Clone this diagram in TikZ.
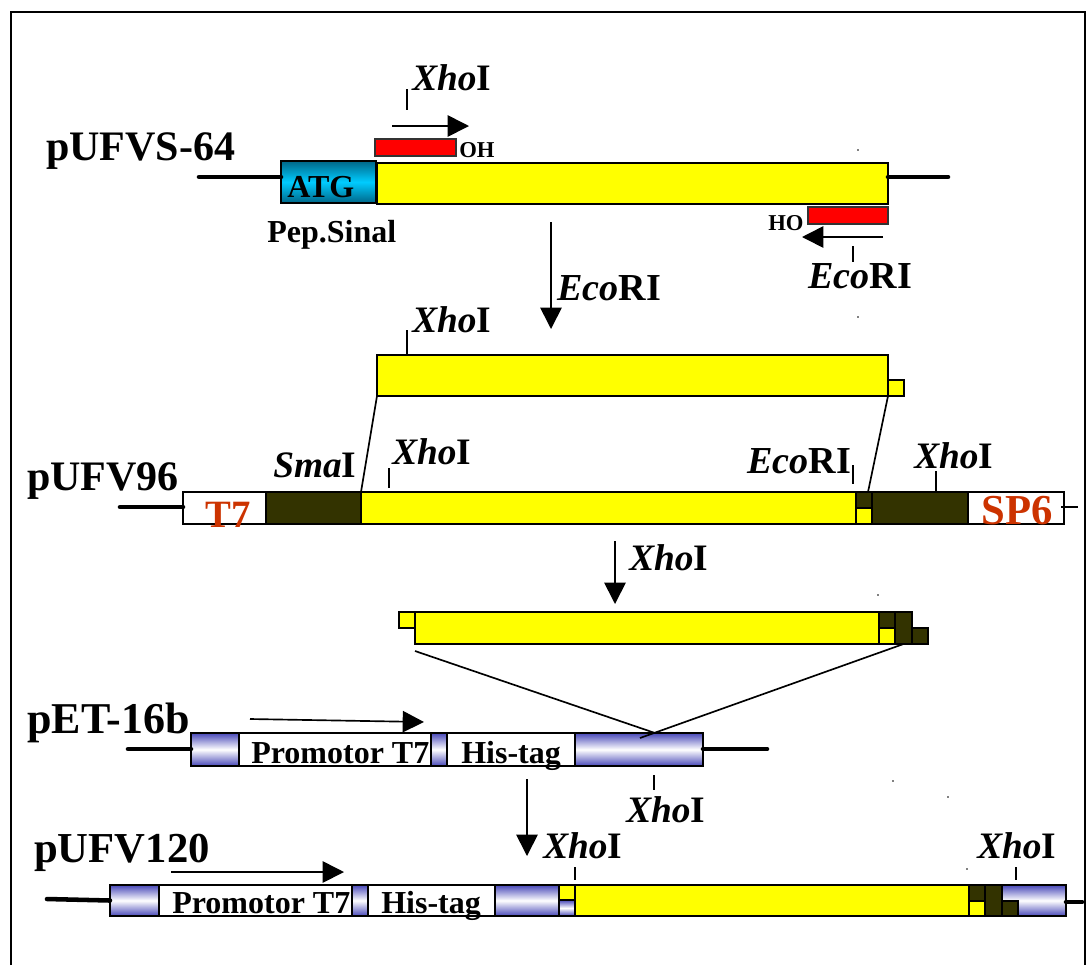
\documentclass[tikz,border=0pt]{standalone}
\usepackage{fontspec}
\setmainfont{Liberation Serif}
\usetikzlibrary{arrows.meta}
\definecolor{bandblue}{RGB}{72,72,184}
\definecolor{darkband}{RGB}{51,51,0}
\definecolor{promoter}{RGB}{204,51,0}
\definecolor{atgdark}{RGB}{0,102,136}
\definecolor{atgcyan}{RGB}{0,204,255}
\definecolor{geneyellow}{rgb}{1,1,0}
\newcommand{\xhoI}{\textit{Xho}I}
\newcommand{\ecoRI}{\textit{Eco}RI}
\tikzset{
  barsize/.style 2 args={minimum width=#1*0.75pt,minimum height=#2*0.75pt},
  bar/.style={draw=black,line width=1.1pt,anchor=north west,inner sep=0pt,outer sep=0pt},
  yellowbar/.style={bar,fill=geneyellow},
  darkbar/.style={bar,fill=darkband},
  whitebar/.style={bar,fill=white},
  redbar/.style={bar,fill=red,draw=black!80,line width=1.2pt},
  blueband/.style={bar,top color=bandblue,bottom color=bandblue,middle color=white},
  atgband/.style={bar,top color=atgdark,bottom color=atgdark,middle color=atgcyan},
  plasmid/.style={anchor=base west,inner sep=0pt,font=\bfseries\fontsize{31.5}{34}\selectfont},
  site/.style={anchor=base west,inner sep=0pt,font=\bfseries\fontsize{28}{30}\selectfont},
  ecosite/.style={anchor=base west,inner sep=0pt,font=\bfseries\fontsize{28.6}{30}\selectfont},
  inbar/.style={anchor=base west,inner sep=0pt,font=\bfseries\fontsize{24}{26}\selectfont},
  endgroup/.style={anchor=base west,inner sep=0pt,font=\bfseries\fontsize{17}{19}\selectfont},
  tailline/.style={line width=3.4pt,line cap=round},
  tickline/.style={line width=0.8pt},
  insertline/.style={line width=1.25pt},
  bigarrow/.style={line width=1.25pt,-{Triangle[length=16pt,width=16pt]}},
}
\begin{document}
\begin{tikzpicture}[x=0.75pt,y=-0.75pt]
  \useasboundingbox (0,0) rectangle (1088,965);
  \draw[line width=1.2pt] (11,965) -- (11,12) -- (1085,12) -- (1085,965);

  \coordinate (tailAl) at (199,177);
  \coordinate (tailAr) at (948,177);
  \coordinate (tailBl) at (120,507);
  \coordinate (tailBr) at (1078,507);
  \coordinate (tailCl) at (128,749);
  \coordinate (tailCr) at (767,749);
  \coordinate (tailDl) at (47,899);
  \coordinate (tailDr) at (1082,902);

  \node[atgband,barsize={95}{42}] (atgbox) at (281,161) {};
  \node[yellowbar,barsize={511}{41}] (geneA) at (377,163) {};
  \node[redbar,barsize={81}{17}] (primerF) at (375,139) {};
  \node[redbar,barsize={80}{17}] (primerR) at (808,207) {};
  \draw[tailline] (tailAl) -- (tailAl -| atgbox.west);
  \draw[tailline] (tailAl -| geneA.east) -- (tailAr);

  \node[plasmid] (nameA) at (46,160) {pUFVS-64};
  \node[inbar] (atglabel) at (287,197) {ATG};
  \node[inbar] (peplabel) at (267,242) {Pep.Sinal};
  \node[site] (xhoA) at (412,90) {\xhoI};
  \node[endgroup] (ohlabel) at (459,157) {OH};
  \node[endgroup] (holabel) at (768,230) {HO};
  \node[ecosite] (ecoA) at (808,288) {\ecoRI};
  \node[ecosite] (ecoB) at (557,300) {\ecoRI};

  \coordinate (tickAa) at (407,89);
  \coordinate (tickAb) at (407,110);
  \draw[tickline] (tickAa) -- (tickAb);
  \coordinate (tickBa) at (853,246);
  \coordinate (tickBb) at (853,262);
  \draw[tickline] (tickBa) -- (tickBb);
  \coordinate (arrowAa) at (392,126);
  \coordinate (arrowAb) at (469,126);
  \draw[bigarrow] (arrowAa) -- (arrowAb);
  \coordinate (arrowBa) at (883,237);
  \coordinate (arrowBb) at (802,237);
  \draw[bigarrow] (arrowBa) -- (arrowBb);
  \coordinate (arrowCa) at (551,222);
  \coordinate (arrowCb) at (551,329);
  \draw[bigarrow] (arrowCa) -- (arrowCb);

  \node[yellowbar,barsize={511}{41}] (geneB) at (377,355) {};
  \node[yellowbar,barsize={16}{16}] (stubB) at (888,380) {};
  \node[site] (xhoB) at (412,332) {\xhoI};
  \coordinate (tickCa) at (407,330);
  \draw[tickline] (tickCa) -- (tickCa |- geneB.north);

  \node[whitebar,barsize={83}{32}] (bandT) at (183,492) {};
  \node[darkbar,barsize={95}{32}] (smaband) at (266,492) {};
  \node[yellowbar,barsize={495}{32}] (geneC) at (361,492) {};
  \node[darkbar,barsize={16}{16}] (colCt) at (856,492) {};
  \node[yellowbar,barsize={16}{16}] (colCb) at (856,508) {};
  \node[darkbar,barsize={96}{32}] (xhoband) at (872,492) {};
  \node[whitebar,barsize={96}{32}] (bandS) at (968,492) {};
  \draw[tailline] (tailBl) -- (tailBl -| bandT.west);
  \draw[tickline] (tailBr -| bandS.east) ++(-3,0) -- (tailBr);
  \draw[insertline] (geneB.south west) -- (smaband.north east);
  \draw[insertline] (geneB.south east) -- ([xshift=3pt]colCt.north);

  \node[plasmid] (nameB) at (27,490) {pUFV96};
  \node[site] (smalabel) at (273,477) {\textit{Sma}I};
  \node[site] (xhoC) at (392,464) {\xhoI};
  \node[ecosite] (ecoC) at (747,473) {\ecoRI};
  \node[site] (xhoD) at (914,468) {\xhoI};
  \node[anchor=base west,inner sep=0pt,text=promoter,font=\bfseries\fontsize{29}{31}\selectfont] (tlabel) at (205,527) {T7};
  \node[anchor=base west,inner sep=0pt,text=promoter,font=\bfseries\fontsize{32}{34}\selectfont] (splabel) at (981,524) {SP6};

  \coordinate (tickDa) at (389,468);
  \coordinate (tickDb) at (389,488);
  \draw[tickline] (tickDa) -- (tickDb);
  \coordinate (tickEa) at (853,465);
  \coordinate (tickEb) at (853,484);
  \draw[tickline] (tickEa) -- (tickEb);
  \coordinate (tickFa) at (936,471);
  \draw[tickline] (tickFa) -- (tickFa |- xhoband.north);

  \coordinate (arrowDa) at (615,541);
  \coordinate (arrowDb) at (615,604);
  \draw[bigarrow] (arrowDa) -- (arrowDb);
  \node[site] (xhoE) at (629,570) {\xhoI};

  \node[yellowbar,barsize={16}{16}] (stubE) at (399,612) {};
  \node[yellowbar,barsize={464}{32}] (geneE) at (415,612) {};
  \node[darkbar,barsize={16}{16}] (colEt) at (879,612) {};
  \node[yellowbar,barsize={16}{16}] (colEb) at (879,628) {};
  \node[darkbar,barsize={17}{32}] (darkE) at (895,612) {};
  \node[darkbar,barsize={16}{16}] (stubF) at (912,628) {};

  \node[blueband,barsize={48}{33}] (bandGa) at (191,733) {};
  \node[whitebar,barsize={192}{33}] (promG) at (239,733) {};
  \node[blueband,barsize={16}{33}] (bandGb) at (431,733) {};
  \node[whitebar,barsize={128}{33}] (hisG) at (447,733) {};
  \node[blueband,barsize={128}{33}] (bandGc) at (575,733) {};
  \draw[tailline] (tailCl) -- (tailCl -| bandGa.west);
  \draw[tailline] (tailCl -| bandGc.east) -- (tailCr);

  \coordinate (meetG) at (655,733);
  \coordinate (meetH) at (640,738);
  \coordinate (startG) at (415,651);
  \draw[insertline] (startG) -- (meetG);
  \draw[insertline] (darkE.south) -- (meetH);

  \node[anchor=base west,inner sep=0pt,font=\bfseries\fontsize{33}{36}\selectfont] (nameG) at (27,733) {pET-16b};
  \node[inbar] (promlabelG) at (251,763) {Promotor T7};
  \node[inbar] (hislabelG) at (461,763) {His-tag};
  \node[site] (xhoG) at (626,822) {\xhoI};
  \coordinate (arrowEa) at (250,719);
  \coordinate (arrowEb) at (424,722);
  \draw[bigarrow] (arrowEa) -- (arrowEb);
  \coordinate (tickGa) at (654,775);
  \coordinate (tickGb) at (654,790);
  \draw[tickline] (tickGa) -- (tickGb);
  \coordinate (arrowFa) at (527,779);
  \coordinate (arrowFb) at (527,856);
  \draw[bigarrow] (arrowFa) -- (arrowFb);

  \node[blueband,barsize={49}{31}] (bandHa) at (110,885) {};
  \node[whitebar,barsize={193}{31}] (promH) at (159,885) {};
  \node[blueband,barsize={16}{31}] (bandHb) at (352,885) {};
  \node[whitebar,barsize={127}{31}] (hisH) at (368,885) {};
  \node[blueband,barsize={64}{31}] (bandHc) at (495,885) {};
  \node[yellowbar,barsize={16}{15}] (colHt) at (559,885) {};
  \node[blueband,barsize={16}{16}] (colHb) at (559,900) {};
  \node[yellowbar,barsize={394}{31}] (geneH) at (575,885) {};
  \node[darkbar,barsize={16}{16}] (colIt) at (969,885) {};
  \node[yellowbar,barsize={16}{15}] (colIb) at (969,901) {};
  \node[darkbar,barsize={17}{31}] (darkH) at (985,885) {};
  \node[blueband,barsize={64}{31}] (bandHd) at (1002,885) {};
  \node[darkbar,barsize={16}{15}] (stubH) at (1002,901) {};
  \draw[tailline] (tailDl) -- (bandHa.west);
  \draw[tailline] (tailDr -| bandHd.east) -- (tailDr);

  \node[anchor=base west,inner sep=0pt,font=\bfseries\fontsize{32}{34}\selectfont] (nameH) at (34,862) {pUFV120};
  \node[inbar] (promlabelH) at (172,913) {Promotor T7};
  \node[inbar] (hislabelH) at (381,913) {His-tag};
  \node[site] (xhoH) at (543,858) {\xhoI};
  \node[site] (xhoI) at (977,858) {\xhoI};
  \coordinate (arrowGa) at (171,872);
  \coordinate (arrowGb) at (344,872);
  \draw[bigarrow] (arrowGa) -- (arrowGb);
  \coordinate (tickHa) at (575,867);
  \coordinate (tickHb) at (575,880);
  \draw[tickline] (tickHa) -- (tickHb);
  \coordinate (tickIa) at (1016,867);
  \coordinate (tickIb) at (1016,880);
  \draw[tickline] (tickIa) -- (tickIb);

  \fill (858,150) circle (0.8);
  \fill (858,317) circle (0.8);
  \fill (878,595) circle (0.8);
  \fill (893,781) circle (0.8);
  \fill (948,797) circle (0.8);
  \fill (967,869) circle (0.8);
\end{tikzpicture}
\end{document}
